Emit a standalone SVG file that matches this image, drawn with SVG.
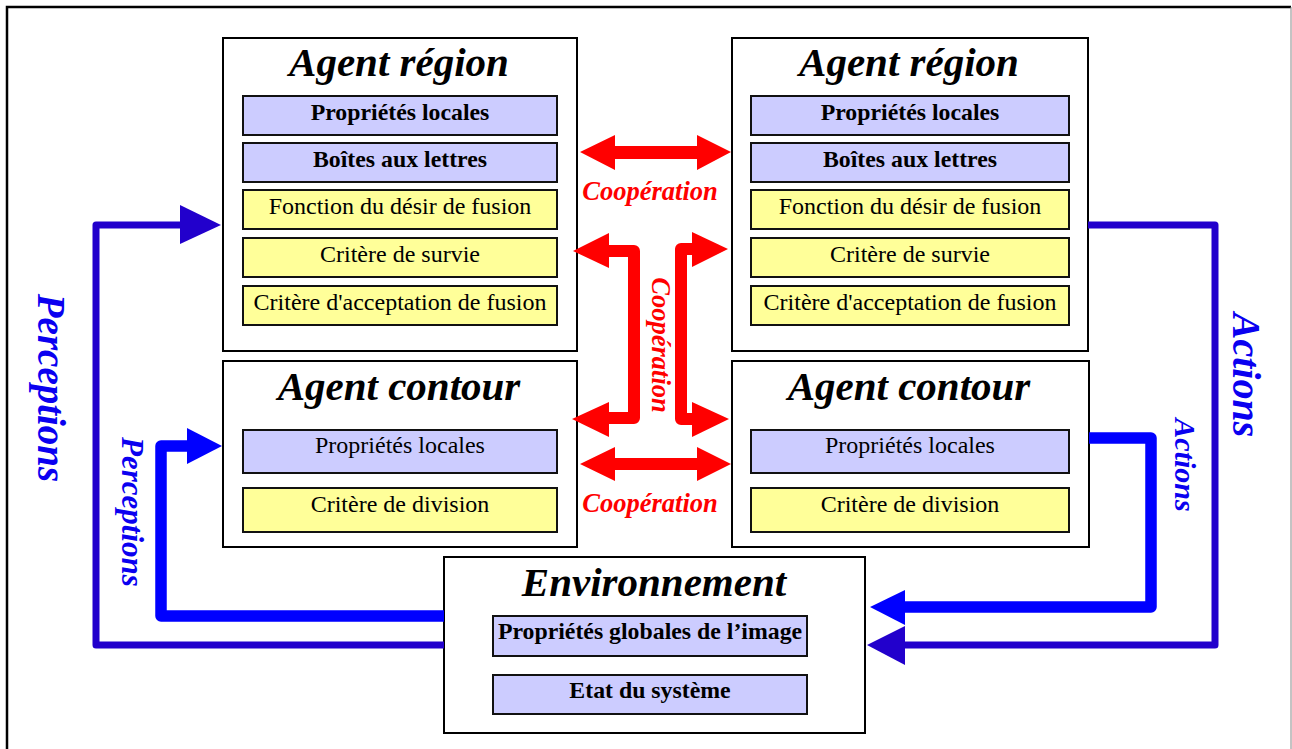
<svg xmlns="http://www.w3.org/2000/svg" width="1292" height="749" viewBox="0 0 1292 749">
<style>
.box{fill:#fff;stroke:#000;stroke-width:2}
.pb{fill:#ccccff;stroke:#111;stroke-width:2}
.py{fill:#ffff99;stroke:#111;stroke-width:2}
.title{font-family:"Liberation Serif",serif;font-weight:bold;font-style:italic;font-size:41px;fill:#000;text-anchor:middle}
.t{font-family:"Liberation Serif",serif;font-size:24px;fill:#000;text-anchor:middle}
.tb{font-family:"Liberation Serif",serif;font-size:23.8px;font-weight:bold;fill:#000;text-anchor:middle}
.coop{font-family:"Liberation Serif",serif;font-weight:bold;font-style:italic;font-size:26.5px;fill:#ff0000;text-anchor:middle}
.lab{font-family:"Liberation Serif",serif;font-weight:bold;font-style:italic;fill:#0a00f0;text-anchor:middle}
.red{fill:#ff0000}
.redl{fill:none;stroke:#ff0000;stroke-width:12;stroke-linejoin:round}
.b1{fill:none;stroke:#2200cc;stroke-width:7;stroke-linejoin:round}
.b2{fill:none;stroke:#0000ff;stroke-width:11.5;stroke-linejoin:round}
</style>
<rect x="0" y="0" width="1292" height="749" fill="#fff"/>
<path d="M7,760 V7 H1291" fill="none" stroke="#000" stroke-width="2.5"/>
<line x1="1291" y1="7" x2="1291" y2="749" stroke="#888" stroke-width="1"/>

<g id="region-left">
<rect class="box" x="223" y="38" width="354" height="313"/>
<text class="title" x="399" y="76">Agent région</text>
<rect class="pb" x="243" y="96" width="314" height="39"/>
<text class="tb" x="400" y="120">Propriétés locales</text>
<rect class="pb" x="243" y="143" width="314" height="39"/>
<text class="tb" x="400" y="167">Boîtes aux lettres</text>
<rect class="py" x="243" y="190" width="314" height="39"/>
<text class="t" x="400" y="214">Fonction du désir de fusion</text>
<rect class="py" x="243" y="238" width="314" height="39"/>
<text class="t" x="400" y="262">Critère de survie</text>
<rect class="py" x="243" y="286" width="314" height="39"/>
<text class="t" x="400" y="310">Critère d'acceptation de fusion</text>
</g>

<g id="region-right">
<rect class="box" x="732" y="38" width="356" height="313"/>
<text class="title" x="909" y="76">Agent région</text>
<rect class="pb" x="751" y="96" width="318" height="39"/>
<text class="tb" x="910" y="120">Propriétés locales</text>
<rect class="pb" x="751" y="143" width="318" height="39"/>
<text class="tb" x="910" y="167">Boîtes aux lettres</text>
<rect class="py" x="751" y="190" width="318" height="39"/>
<text class="t" x="910" y="214">Fonction du désir de fusion</text>
<rect class="py" x="751" y="238" width="318" height="39"/>
<text class="t" x="910" y="262">Critère de survie</text>
<rect class="py" x="751" y="286" width="318" height="39"/>
<text class="t" x="910" y="310">Critère d'acceptation de fusion</text>
</g>

<g id="contour-left">
<rect class="box" x="223" y="361" width="354" height="186"/>
<text class="title" x="399" y="400">Agent contour</text>
<rect class="pb" x="243" y="430" width="314" height="43"/>
<text class="t" x="400" y="453">Propriétés locales</text>
<rect class="py" x="243" y="488" width="314" height="44"/>
<text class="t" x="400" y="512">Critère de division</text>
</g>

<g id="contour-right">
<rect class="box" x="732" y="361" width="357" height="186"/>
<text class="title" x="909" y="400">Agent contour</text>
<rect class="pb" x="751" y="430" width="318" height="43"/>
<text class="t" x="910" y="453">Propriétés locales</text>
<rect class="py" x="751" y="488" width="318" height="44"/>
<text class="t" x="910" y="512">Critère de division</text>
</g>

<g id="environnement">
<rect class="box" x="444" y="557" width="421" height="176"/>
<text class="title" x="654" y="596">Environnement</text>
<rect class="pb" x="493" y="616" width="314" height="40"/>
<text class="tb" x="650" y="639">Propriétés globales de l’image</text>
<rect class="pb" x="493" y="675" width="314" height="39"/>
<text class="tb" x="650" y="698">Etat du système</text>
</g>

<g id="connectors">
<polygon class="red" points="580,152 615,135 615,146 697,146 697,135 731,152 697,170 697,159 615,159 615,170"/>
<polygon class="red" points="580,464 615,447 615,458 697,458 697,447 731,464 697,481 697,470 615,470 615,481"/>
<path class="redl" d="M606,251 H634 V418 H606"/>
<polygon class="red" points="573,251 609,233 609,268"/>
<polygon class="red" points="572,419 609,402 609,437"/>
<path class="redl" d="M694,249 H681 V419 H694"/>
<polygon class="red" points="728,249 692,232 692,267"/>
<polygon class="red" points="729,419 692,402 692,437"/>

<path class="b1" d="M444,645 H96 V225 H184"/>
<polygon fill="#2200cc" points="180,205 221,225 180,244"/>
<path class="b2" d="M444,616 H161 V446 H190"/>
<polygon fill="#0000ff" points="187,428 222,446 187,464"/>
<path class="b1" d="M1088,225 H1215 V645 H902"/>
<polygon fill="#2200cc" points="905,626 867,645 905,665"/>
<path class="b2" d="M1089,438 H1151 V607 H902"/>
<polygon fill="#0000ff" points="905,590 870,607 905,625"/>

<text class="coop" x="650" y="200">Coopération</text>
<text class="coop" x="650" y="512">Coopération</text>
<text class="coop" transform="translate(652,345) rotate(90)" x="0" y="0">Coopération</text>
<text class="lab" font-size="39" transform="translate(38,388) rotate(90)">Perceptions</text>
<text class="lab" font-size="31" transform="translate(122,512) rotate(90)">Perceptions</text>
<text class="lab" font-size="40" transform="translate(1233,375) rotate(90)">Actions</text>
<text class="lab" font-size="30" transform="translate(1175,465) rotate(90)">Actions</text>
</g>
</svg>
